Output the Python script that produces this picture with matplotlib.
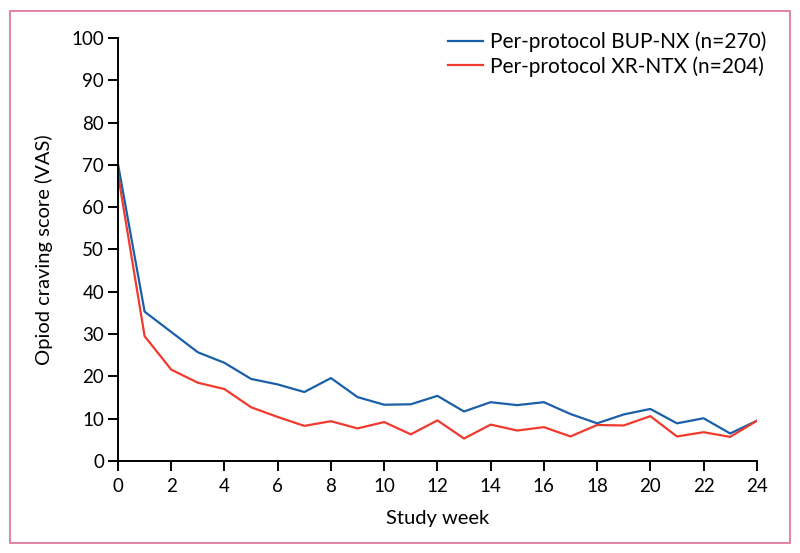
import matplotlib
matplotlib.use("Agg")
import matplotlib.pyplot as plt
from matplotlib.patches import Rectangle

weeks = list(range(0, 25))
bup_nx = [70.2, 35.3, 30.5, 25.7, 23.2, 19.4, 18.1, 16.3, 19.6, 15.1, 13.3, 13.4,
          15.4, 11.7, 13.9, 13.2, 13.9, 11.1, 8.9, 11.0, 12.3, 8.9, 10.1, 6.5, 9.5]
xr_ntx = [67.8, 29.5, 21.6, 18.5, 17.0, 12.7, 10.4, 8.3, 9.4, 7.7, 9.2, 6.3,
          9.6, 5.3, 8.6, 7.2, 8.0, 5.8, 8.5, 8.4, 10.6, 5.8, 6.8, 5.7, 9.5]
labels = ["Per-protocol BUP-NX (n=270)", "Per-protocol XR-NTX (n=204)"]
xticks = list(range(0, 25, 2))
yticks = list(range(0, 101, 10))

plt.rcParams['font.family'] = ['Lato', 'DejaVu Sans']

fig = plt.figure(figsize=(8.0, 5.53), dpi=100)
fig.patches.append(Rectangle((0.0125, 0.018), 0.975, 0.963, transform=fig.transFigure,
                             fill=False, edgecolor='#e07a9a', linewidth=1.3))
ax = fig.add_axes([0.1475, 0.1664, 0.7985, 0.7649])

ax.plot(weeks, bup_nx, color='#1a5fa8', lw=1.6, label=labels[0])
ax.plot(weeks, xr_ntx, color='#f03a2e', lw=1.6, label=labels[1])

ax.set_xlim(0, 24)
ax.set_ylim(0, 100)
ax.set_xticks(xticks)
ax.set_yticks(yticks)
for s in ['top', 'right']:
    ax.spines[s].set_visible(False)
for s in ['left', 'bottom']:
    ax.spines[s].set_linewidth(1.4)
ax.tick_params(direction='out', length=7.5, width=1.4, labelsize=13.5)
ax.tick_params(axis='x', pad=4.5)
ax.tick_params(axis='y', pad=2.5)
ax.set_xlabel("Study week", fontsize=14.5, labelpad=11)
ax.set_ylabel("Opiod craving score (VAS)", fontsize=14.5, labelpad=13)

ax.legend(loc='upper right', bbox_to_anchor=(1.045, 1.06), frameon=False, fontsize=15,
          handlelength=1.7, handletextpad=0.35, labelspacing=0.2)

fig.savefig("out.png", dpi=100)
